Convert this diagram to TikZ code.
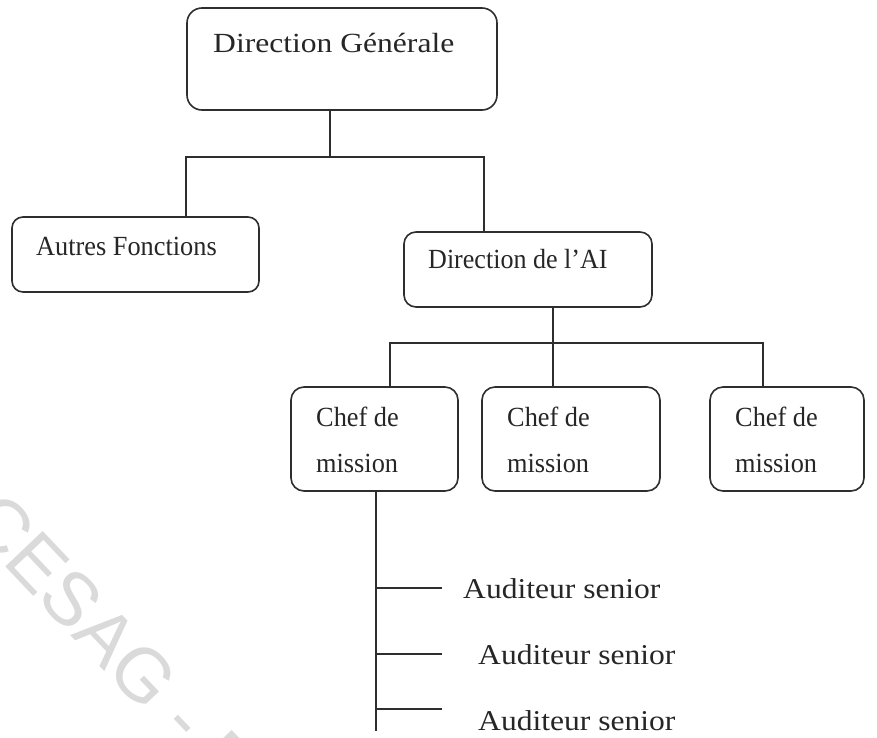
\documentclass[tikz,border=0pt]{standalone}
\usepackage{fontspec}
\usepackage{graphicx}
\setmainfont{Liberation Serif}
\newfontfamily\markfont{Liberation Sans}
\newcommand{\stretchtext}[2]{\scalebox{#1}[1]{#2}}
\definecolor{ink}{HTML}{262626}
\definecolor{wireink}{HTML}{2E2E2E}
\definecolor{markgray}{HTML}{DADADA}
\begin{document}
\begin{tikzpicture}[x=1pt,y=-1pt,
  box/.style={draw=wireink, line width=1.6pt, rounded corners=13pt, inner sep=0pt},
  lbl/.style={font=\fontsize{27.7}{27.7}\selectfont, text=ink, inner sep=0pt, anchor=base west},
  aud/.style={font=\fontsize{28.7}{28.7}\selectfont, text=ink, inner sep=0pt, anchor=base west},
  wire/.style={draw=wireink, line width=1.5pt}]
\useasboundingbox (0,0) rectangle (877,737);
\fill[white] (0,0) rectangle (877,737);
\clip (0,0) rectangle (877,737);

% faint watermark running down the lower left
\node[font=\markfont\fontsize{75}{75}\selectfont, text=markgray, inner sep=0pt,
      anchor=base west, rotate=-46.5] (wm) at (-36,523) {CESAG - B};

% boxes
\node[box, rounded corners=15pt, minimum width=310pt, minimum height=102pt] (dg) at (342,59) {};
\node[box, rounded corners=11pt, minimum width=247pt, minimum height=75pt] (af) at (135.5,254.5) {};
\node[box, rounded corners=12pt, minimum width=248pt, minimum height=75pt] (ai) at (528,269.5) {};
\node[box, minimum width=167pt, minimum height=104pt] (cm1) at (374.5,439) {};
\node[box, minimum width=178pt, minimum height=104pt] (cm2) at (571,439) {};
\node[box, minimum width=154pt, minimum height=104pt] (cm3) at (787,439) {};

% box texts
\node[lbl] (dgt) at (213,52) {\stretchtext{1.14}{Direction Générale}};
\node[lbl] (aft) at (36,255) {\stretchtext{0.95}{Autres Fonctions}};
\node[lbl] (ait) at (428,268) {\stretchtext{0.94}{Direction de l’AI}};
\node[lbl] (cm1a) at (316,426) {\stretchtext{0.95}{Chef de}};
\node[lbl] (cm1b) at (316,472) {\stretchtext{0.95}{mission}};
\node[lbl] (cm2a) at (507,426) {\stretchtext{0.95}{Chef de}};
\node[lbl] (cm2b) at (507,472) {\stretchtext{0.95}{mission}};
\node[lbl] (cm3a) at (735,426) {\stretchtext{0.95}{Chef de}};
\node[lbl] (cm3b) at (735,472) {\stretchtext{0.95}{mission}};

% auditors
\node[aud] (a1) at (463,598) {\stretchtext{1.10}{Auditeur senior}};
\node[aud] (a2) at (478,664) {\stretchtext{1.10}{Auditeur senior}};
\node[aud] (a3) at (478,730) {\stretchtext{1.10}{Auditeur senior}};

% junction points
\coordinate (j0) at (330,157);
\coordinate (bl) at (186,157);
\coordinate (br) at (484,157);
\coordinate (m1) at (390,343);
\coordinate (m2) at (553,343);
\coordinate (m3) at (763,343);
\coordinate (v) at (376,731);
\coordinate (b1) at (442,588);
\coordinate (b2) at (442,654);
\coordinate (b3) at (442,709);

% connectors
\draw[wire] (dg.south -| j0) -- (j0);
\draw[wire] (af.north -| bl) |- (br) -- (ai.north -| br);
\draw[wire] (cm1.north -| m1) |- (m3) -- (cm3.north -| m3);
\draw[wire] (ai.south -| m2) -- (cm2.north -| m2);
\draw[wire] (cm1.south -| v) -- (v);
\draw[wire] (v |- b1) -- (b1);
\draw[wire] (v |- b2) -- (b2);
\draw[wire] (v |- b3) -- (b3);
\end{tikzpicture}
\end{document}
